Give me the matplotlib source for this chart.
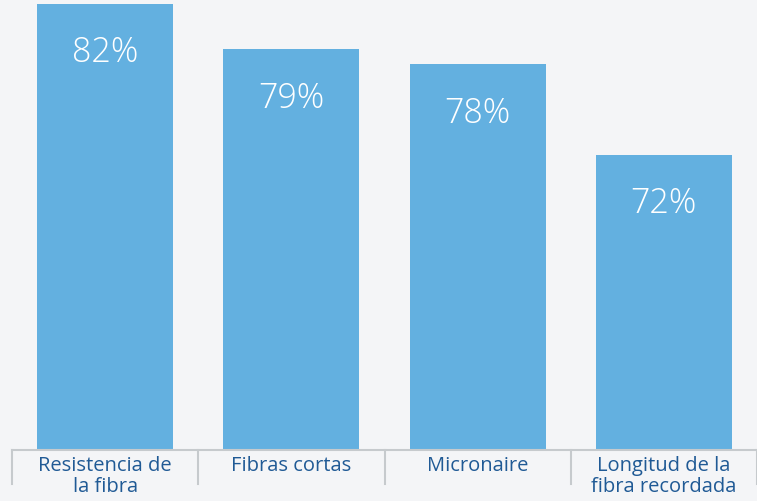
import matplotlib
matplotlib.use("Agg")
import matplotlib.pyplot as plt
from matplotlib.lines import Line2D

categories = ["Resistencia de\nla fibra", "Fibras cortas", "Micronaire", "Longitud de la\nfibra recordada"]
values = [82, 79, 78, 72]
value_labels = ["82%", "79%", "78%", "72%"]

BG = "#f4f5f7"
BAR = "#63b0e0"
TXT = "#205a95"
LINE = "#c6cacd"

W, H = 757, 502
fig = plt.figure(figsize=(W / 100, H / 100), dpi=100, facecolor=BG)
ax = fig.add_axes([12 / W, 51 / H, (757 - 12) / W, 451 / H])
ax.set_facecolor(BG)

x = list(range(len(categories)))
ax.bar(x, values, width=0.73, color=BAR, bottom=0)
ax.set_xlim(-0.5, len(categories) - 0.5)
ax.set_ylim(52.47, 52.47 + 451 / 15.10)

for xi, v, lab in zip(x, values, value_labels):
    ax.annotate(lab, (xi, v), xytext=(0, -48), textcoords="offset pixels",
                ha="center", va="center", color="white", fontsize=24.5,
                family=["Open Sans", "DejaVu Sans"], fontweight="light")

for s in ax.spines.values():
    s.set_visible(False)
ax.set_xticks([])
ax.set_yticks([])

# baseline
ax.axhline(ax.get_ylim()[0], color=LINE, lw=1.5, clip_on=False)
# separators and labels
for b in range(len(categories) + 1):
    ax.add_line(Line2D([b - 0.5, b - 0.5], [0, -34 / 451], transform=ax.get_xaxis_transform(),
                       color=LINE, lw=1.5, clip_on=False))
for xi, c in zip(x, categories):
    ax.text(xi, -5 / 451, c, transform=ax.get_xaxis_transform(), ha="center", va="top",
            color=TXT, fontsize=14.5, family=["Open Sans", "DejaVu Sans"], linespacing=1.05)

fig.savefig("out.png", dpi=100, facecolor=BG)
